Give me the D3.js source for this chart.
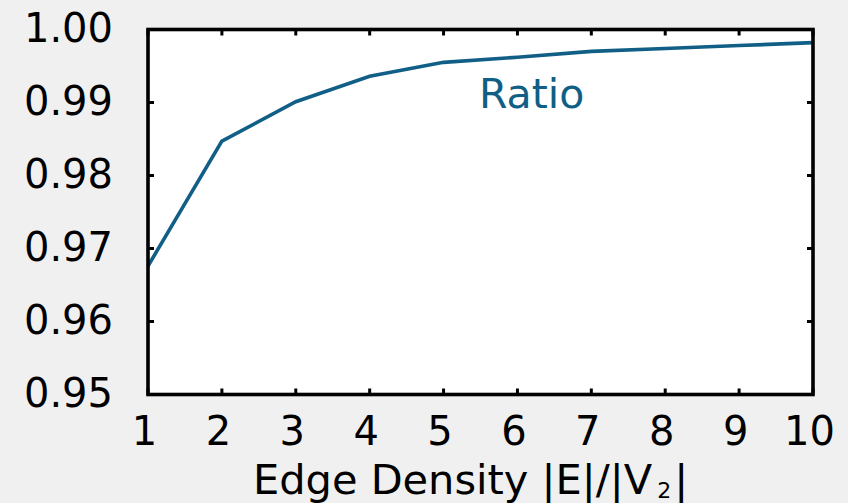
<!DOCTYPE html>
<html>
<head>
<meta charset="utf-8">
<script src="https://cdn.jsdelivr.net/npm/d3@7"></script>
<style>
  html, body { margin: 0; padding: 0; background: #f0f0f0; }
  svg { display: block; font-family: "DejaVu Sans", sans-serif; }
</style>
</head>
<body>
<svg id="chart" width="848" height="503"></svg>
<script>
// Ratio vs edge density
const densities = [1, 2, 3, 4, 5, 6, 7, 8, 9, 10];
const ratios = [0.9676, 0.9847, 0.9901, 0.9936, 0.9955, 0.9962, 0.9970, 0.9974, 0.9978, 0.9982];
const xTicks = [1, 2, 3, 4, 5, 6, 7, 8, 9, 10];
const yTicks = [0.95, 0.96, 0.97, 0.98, 0.99, 1.00];
const seriesLabel = 'Ratio';

const W = 848, H = 503;
const M = { left: 148, right: 35, top: 29.5, bottom: 108.5 };
const LINE = '#115f86';

const svg = d3.select('#chart');
const x = d3.scaleLinear().domain([1, 10]).range([M.left, W - M.right]);
const y = d3.scaleLinear().domain([0.95, 1.00]).range([H - M.bottom, M.top]);

// plot area
svg.append('rect')
  .attr('x', x(1)).attr('y', y(1))
  .attr('width', x(10) - x(1)).attr('height', y(0.95) - y(1))
  .attr('fill', '#fff');

// inward ticks on all four sides (mirrored)
const tk = 6;
const g = svg.append('g').attr('stroke', '#000').attr('stroke-width', 3);
xTicks.forEach(v => {
  g.append('line').attr('x1', x(v)).attr('x2', x(v)).attr('y1', y(0.95)).attr('y2', y(0.95) - tk);
  g.append('line').attr('x1', x(v)).attr('x2', x(v)).attr('y1', y(1)).attr('y2', y(1) + tk);
});
yTicks.forEach(v => {
  g.append('line').attr('x1', x(1)).attr('x2', x(1) + tk).attr('y1', y(v)).attr('y2', y(v));
  g.append('line').attr('x1', x(10)).attr('x2', x(10) - tk).attr('y1', y(v)).attr('y2', y(v));
});

// data line
svg.append('path')
  .datum(densities.map((d, i) => [d, ratios[i]]))
  .attr('fill', 'none').attr('stroke', LINE).attr('stroke-width', 3.6)
  .attr('stroke-linejoin', 'miter')
  .attr('d', d3.line().x(d => x(d[0])).y(d => y(d[1])));

// frame
svg.append('rect')
  .attr('x', x(1)).attr('y', y(1))
  .attr('width', x(10) - x(1)).attr('height', y(0.95) - y(1))
  .attr('fill', 'none').attr('stroke', '#000').attr('stroke-width', 3.6);

// tick labels
svg.append('g').selectAll('text').data(yTicks).join('text')
  .attr('x', 113).attr('y', d => y(d) + 12.5)
  .attr('text-anchor', 'end').attr('font-size', 40).attr('fill', '#000')
  .text(d => d.toFixed(2));
svg.append('g').selectAll('text').data(xTicks).join('text')
  .attr('x', d => x(d) - 3.5).attr('y', 445)
  .attr('text-anchor', 'middle').attr('font-size', 40).attr('fill', '#000')
  .text(d => d);

// axis title with subscript
const title = svg.append('text')
  .attr('x', 253).attr('y', 494)
  .attr('font-size', 41.5).attr('fill', '#000');
title.append('tspan').text('Edge Density |E|/|V');
title.append('tspan').attr('font-size', 22).attr('dx', 5).attr('dy', 4).text('2');
title.append('tspan').attr('dx', 3).attr('dy', -4).text('|');

// series label
svg.append('text')
  .attr('x', 479).attr('y', 108)
  .attr('font-size', 41).attr('fill', LINE)
  .text(seriesLabel);
</script>
</body>
</html>
